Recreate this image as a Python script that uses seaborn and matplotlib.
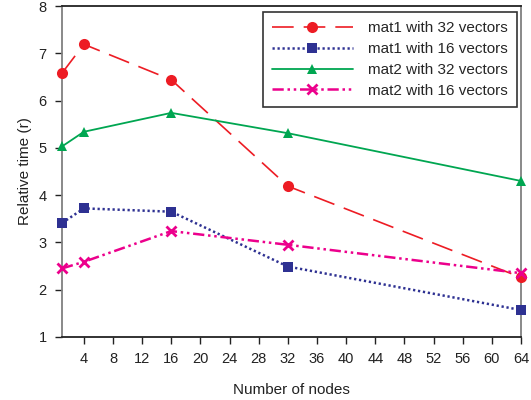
import matplotlib
matplotlib.use("Agg")
import matplotlib.pyplot as plt
import seaborn as sns
import pandas as pd

nodes = [1, 4, 16, 32, 64]
mat1_32 = [6.58, 7.19, 6.44, 4.19, 2.26]
mat1_16 = [3.41, 3.72, 3.65, 2.49, 1.57]
mat2_32 = [5.03, 5.34, 5.74, 5.31, 4.30]
mat2_16 = [2.45, 2.59, 3.24, 2.95, 2.35]
labels = ["mat1 with 32 vectors", "mat1 with 16 vectors",
          "mat2 with 32 vectors", "mat2 with 16 vectors"]
xticks = list(range(4, 65, 4))
yticks = [1, 2, 3, 4, 5, 6, 7, 8]

sns.set_style("white")
plt.rcParams['font.family'] = ['Liberation Sans', 'DejaVu Sans']

fig = plt.figure(figsize=(5.31, 4.0), dpi=100)
ax = fig.add_axes([62/531, 1-337/400, 459/531, 331/400])

styles = [
    dict(color="#ED1C24", linestyle=(0, (13, 6)), marker="o", markersize=8, lw=1.2, mew=0),
    dict(color="#2E3192", linestyle=(0, (0.9, 1.1)), marker="s", markersize=6.5, lw=1.8, mew=0),
    dict(color="#00A651", linestyle="-", marker="^", markersize=7.5, lw=1.3, mew=0),
    dict(color="#EC008C", linestyle=(0, (4.5, 1.5, 1, 1.5, 1, 1.5)), marker="x", markersize=7, lw=1.8, mew=2),
]
series = [mat1_32, mat1_16, mat2_32, mat2_16]
for vals, lab, st in zip(series, labels, styles):
    df = pd.DataFrame({"x": nodes, "y": vals})
    sns.lineplot(data=df, x="x", y="y", ax=ax, label=lab,
                 color=st["color"], linestyle=st["linestyle"], marker=st["marker"],
                 markersize=st["markersize"], linewidth=st["lw"],
                 markeredgewidth=st["mew"], markeredgecolor=st["color"],
                 clip_on=False, zorder=3)

ax.set_xlim(1, 64)
ax.set_ylim(1, 8)
ax.set_xticks(xticks)
ax.set_yticks(yticks)
ax.tick_params(axis="both", direction="out", length=5, width=1, colors="#222222",
               labelsize=10.5, bottom=True, left=True, labelcolor="#222222")
ax.tick_params(axis="y", pad=6)
ax.tick_params(axis="x", pad=6)
for s in ["left", "right"]:
    ax.spines[s].set_color("#808080")
    ax.spines[s].set_linewidth(1.3)
for s in ["top", "bottom"]:
    ax.spines[s].set_color("#222222")
    ax.spines[s].set_linewidth(1.3)
ax.set_xlabel("Number of nodes", fontsize=11, color="#222222", labelpad=12)
ax.set_ylabel("Relative time (r)", fontsize=11, color="#222222", labelpad=5)

leg = ax.legend(loc="upper right", bbox_to_anchor=(0.991, 0.982), fontsize=11,
                frameon=True, fancybox=False, edgecolor="black", handlelength=5.3,
                labelspacing=0.45, borderpad=0.6, handletextpad=1.0, borderaxespad=0)
leg.get_frame().set_linewidth(1.2)

fig.savefig("out.png", dpi=100)
